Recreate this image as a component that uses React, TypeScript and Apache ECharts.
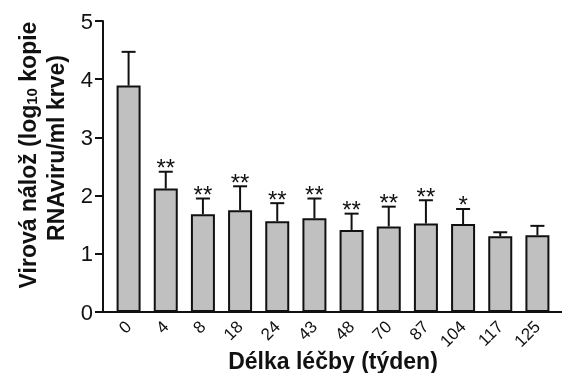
import React, { useEffect, useRef } from "react";
import * as echarts from "echarts";

const categories = ["0", "4", "8", "18", "24", "43", "48", "70", "87", "104", "117", "125"];
const means = [3.89, 2.12, 1.68, 1.75, 1.56, 1.61, 1.41, 1.47, 1.52, 1.51, 1.30, 1.32];
const upperErrors = [4.47, 2.41, 1.95, 2.16, 1.87, 1.95, 1.69, 1.81, 1.92, 1.77, 1.37, 1.48];
const significance = ["", "**", "**", "**", "**", "**", "**", "**", "**", "*", "", ""];
const yTicks = { min: 0, max: 5, interval: 1 };

const FONT = "Liberation Sans, Arial, sans-serif";

export default function App() {
  const ref = useRef<HTMLDivElement>(null);
  useEffect(() => {
    if (!ref.current) return;
    const chart = echarts.init(ref.current, null, { renderer: "svg" });
    const errData = categories.map((_, i) => [i, means[i], upperErrors[i]]);
    chart.setOption({
      animation: false,
      grid: { left: 110, right: 6, top: 21, bottom: 61, containLabel: false, outerBoundsMode: "none" },
      xAxis: {
        type: "category",
        data: categories,
        boundaryGap: true,
        axisLine: { show: true, lineStyle: { color: "#111", width: 2 } },
        axisTick: { show: false },
        axisLabel: {
          interval: 0,
          rotate: 45,
          fontSize: 17,
          margin: 12,
          color: "#111",
          fontFamily: FONT,
        },
        name: "Délka léčby (týden)",
        nameLocation: "middle",
        nameGap: 37,
        nameMoveOverlap: false,
        nameTextStyle: { fontSize: 23, fontWeight: "bold", color: "#111", fontFamily: FONT },
      },
      yAxis: {
        type: "value",
        min: yTicks.min,
        max: yTicks.max,
        interval: yTicks.interval,
        offset: 7,
        axisLine: { show: true, lineStyle: { color: "#111", width: 2 } },
        axisTick: { show: true, length: 8, lineStyle: { color: "#111", width: 2 } },
        axisLabel: { fontSize: 22, margin: 10, color: "#111", fontFamily: FONT },
        splitLine: { show: false },
      },
      graphic: [
        {
          type: "line",
          shape: { x1: 103, y1: 312, x2: 562, y2: 312 },
          style: { stroke: "#111", lineWidth: 2 },
          z: 100,
        },
        {
          type: "text",
          x: 22,
          y: 155,
          rotation: Math.PI / 2,
          style: {
            text: "{m|Virová nálož (log}{s|10}{m| kopie}",
            align: "center",
            verticalAlign: "middle",
            fill: "#111",
            font: `bold 23px ${FONT}`,
            rich: {
              m: { fontSize: 23, fontWeight: "bold", fontFamily: FONT, lineHeight: 34, fill: "#111", verticalAlign: "bottom" },
              s: { fontSize: 15, fontWeight: "bold", fontFamily: FONT, lineHeight: 22, fill: "#111", verticalAlign: "bottom" },
            },
          },
        },
        {
          type: "text",
          x: 56,
          y: 148,
          rotation: Math.PI / 2,
          style: {
            text: "RNAviru/ml krve)",
            align: "center",
            verticalAlign: "middle",
            fill: "#111",
            font: `bold 23px ${FONT}`,
          },
        },
      ],
      series: [
        {
          type: "bar",
          data: means,
          barWidth: 24,
          itemStyle: { color: "#c0c0c0", borderColor: "#111", borderWidth: 2 },
          z: 2,
        },
        {
          type: "custom",
          data: errData,
          z: 3,
          renderItem: (params: any, api: any) => {
            const i = api.value(0);
            const top = api.coord([i, api.value(2)]);
            const base = api.coord([i, api.value(1)]);
            const half = 7;
            const stars = significance[params.dataIndex];
            const children: any[] = [
              {
                type: "line",
                shape: { x1: base[0], y1: base[1], x2: top[0], y2: top[1] },
                style: { stroke: "#111", lineWidth: 2 },
              },
              {
                type: "line",
                shape: { x1: top[0] - half, y1: top[1], x2: top[0] + half, y2: top[1] },
                style: { stroke: "#111", lineWidth: 2 },
              },
            ];
            if (stars) {
              children.push({
                type: "text",
                x: top[0],
                y: top[1] - 4,
                style: {
                  text: stars,
                  align: "center",
                  verticalAlign: "middle",
                  fill: "#111",
                  font: `24px ${FONT}`,
                },
              });
            }
            return { type: "group", children };
          },
        },
      ],
    });
    return () => chart.dispose();
  }, []);
  return <div ref={ref} style={{ position: "fixed", left: 0, top: 0, width: 562, height: 373 }} />;
}
